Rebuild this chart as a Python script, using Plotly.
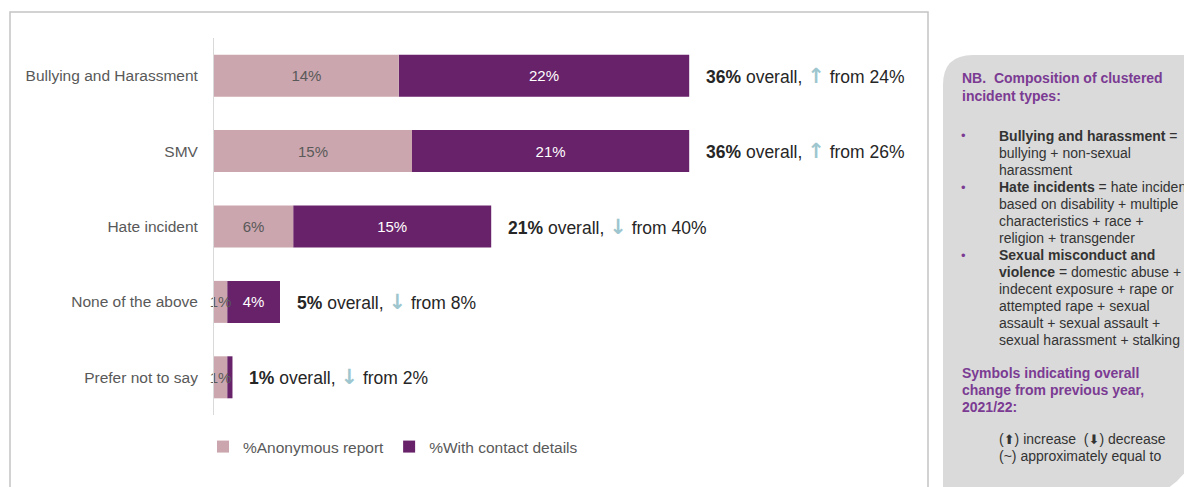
import plotly.graph_objects as go

# ---- data -------------------------------------------------------------
categories = ["Bullying and Harassment", "SMV", "Hate incident",
              "None of the above", "Prefer not to say"]
anonymous = [14, 15, 6, 1, 1]          # %Anonymous report
contact = [22, 21, 15, 4, 0.4]         # %With contact details
contact_labels = ["22%", "21%", "15%", "4%", ""]
overall = [36, 36, 21, 5, 1]
previous = [24, 26, 40, 8, 2]
direction = ["up", "up", "down", "down", "down"]

W, H = 1184, 487
FONT = "Liberation Sans, Arial, sans-serif"
LIGHT = "#cba6ae"
DARK = "#68226a"
ARROW = "#9ec6cf"
GREY_TXT = "#595959"
PURPLE_TXT = "#7b3b93"


def px(x):
    return x / W


def py(y):
    return 1 - y / H


fig = go.Figure()
# contact segment sits after the anonymous segment (base = anonymous);
# it is added first so the anonymous labels are drawn on top of it
fig.add_trace(go.Bar(
    y=categories, x=contact, base=anonymous, orientation="h",
    name="%With contact details", legendrank=2,
    marker=dict(color=DARK, line=dict(width=0)),
    text=contact_labels, textposition="inside",
    insidetextanchor="middle", textangle=0, constraintext="none",
    cliponaxis=False,
    insidetextfont=dict(family=FONT, size=15, color="white"),
    hoverinfo="skip",
))
fig.add_trace(go.Bar(
    y=categories, x=anonymous, base=[0] * len(anonymous), orientation="h",
    name="%Anonymous report", legendrank=1,
    marker=dict(color=LIGHT, line=dict(width=0)),
    text=[f"{v}%" for v in anonymous], textposition="inside",
    insidetextanchor="middle", textangle=0, constraintext="none",
    cliponaxis=False,
    insidetextfont=dict(family=FONT, size=15, color=GREY_TXT),
    hoverinfo="skip",
))

# "xx% overall, ↑ from yy%" notes at the end of each stacked bar
for cat, a, c, tot, prev, d in zip(categories, anonymous, contact,
                                   overall, previous, direction):
    arrow = "↑" if d == "up" else "↓"
    fig.add_annotation(
        x=a + c, y=cat, xref="x", yref="y", xanchor="left", yanchor="middle",
        xshift=15, showarrow=False,
        text=(f"<b>{tot}%</b> overall, "
              f"<span style='color:{ARROW};font-family:DejaVu Sans;"
              f"font-size:21px'><b>{arrow}</b></span> from {prev}%"),
        font=dict(family=FONT, size=17.5, color="#262626"),
    )

# ---- frame and side panel --------------------------------------------
shapes = [
    dict(type="rect", xref="paper", yref="paper",
         x0=px(10), x1=px(928), y0=-0.2, y1=py(12),
         line=dict(color="#c4c4c4", width=1.5), fillcolor="rgba(0,0,0,0)",
         layer="below"),
    dict(type="path", xref="paper", yref="paper", layer="below",
         path=(f"M {px(943)},{py(85)} Q {px(943)},{py(55)} {px(973)},{py(55)} "
               f"L {px(1190)},{py(55)} L {px(1190)},{py(464)} "
               f"Q {px(1182)},{py(480)} {px(1162)},{py(492)} "
               f"L {px(943)},{py(492)} Z"),
         fillcolor="#dadada", line=dict(width=0)),
]

# panel text, one line per entry (x pixel, y pixel, text)
header_lines = [
    (960, 78, "NB.  Composition of clustered"),
    (960, 96, "incident types:"),
    (960, 373, "Symbols indicating overall"),
    (960, 390, "change from previous year,"),
    (960, 407, "2021/22:"),
]
body_lines = [
    "<b>Bullying and harassment</b> =",
    "bullying + non-sexual",
    "harassment",
    "<b>Hate incidents</b> = hate incidents",
    "based on disability + multiple",
    "characteristics + race +",
    "religion + transgender",
    "<b>Sexual misconduct and</b>",
    "<b>violence</b> = domestic abuse +",
    "indecent exposure + rape or",
    "attempted rape + sexual",
    "assault + sexual assault +",
    "sexual harassment + stalking",
]
bullet_rows = [0, 3, 7]
key_lines = [
    "(<span style='font-family:DejaVu Sans;font-size:13px'>⬆</span>) increase  "
    "(<span style='font-family:DejaVu Sans;font-size:13px'>⬇</span>) decrease",
    "(~) approximately equal to",
]

for x, y, t in header_lines:
    fig.add_annotation(x=px(x), y=py(y), xref="paper", yref="paper",
                       xanchor="left", yanchor="middle", showarrow=False,
                       text=f"<b>{t}</b>",
                       font=dict(family=FONT, size=14, color=PURPLE_TXT))
for i, t in enumerate(body_lines):
    fig.add_annotation(x=px(997), y=py(136 + 17 * i), xref="paper",
                       yref="paper", xanchor="left", yanchor="middle",
                       showarrow=False, text=t,
                       font=dict(family=FONT, size=14, color="#333333"))
for r in bullet_rows:
    fig.add_annotation(x=px(963), y=py(136 + 17 * r), xref="paper",
                       yref="paper", xanchor="center", yanchor="middle",
                       showarrow=False, text="•",
                       font=dict(family=FONT, size=13, color=PURPLE_TXT))
for i, t in enumerate(key_lines):
    fig.add_annotation(x=px(997), y=py(439 + 17 * i), xref="paper",
                       yref="paper", xanchor="left", yanchor="middle",
                       showarrow=False, text=t,
                       font=dict(family=FONT, size=14, color="#333333"))

fig.update_layout(
    width=W, height=H, margin=dict(l=0, r=0, t=0, b=0),
    paper_bgcolor="white", plot_bgcolor="white",
    barmode="overlay", bargap=0.443,
    font=dict(family=FONT, color=GREY_TXT),
    shapes=shapes,
    showlegend=True,
    legend=dict(orientation="h", x=px(203), y=py(447), xanchor="left",
                yanchor="middle", font=dict(family=FONT, size=15.5,
                                            color=GREY_TXT),
                bgcolor="rgba(0,0,0,0)", traceorder="normal"),
    xaxis=dict(domain=[px(214), px(928)], range=[0, 714 / 13.2],
               showgrid=False, zeroline=False, showticklabels=False,
               showline=False, fixedrange=True),
    yaxis=dict(domain=[py(415), py(38)], autorange="reversed",
               categoryorder="array", categoryarray=categories,
               showgrid=False, zeroline=False, showline=True,
               linecolor="#d9d9d9", linewidth=1, ticks="",
               ticklabelstandoff=12,
               tickfont=dict(family=FONT, size=15.5, color=GREY_TXT)),
)

fig.write_html("out.html")
